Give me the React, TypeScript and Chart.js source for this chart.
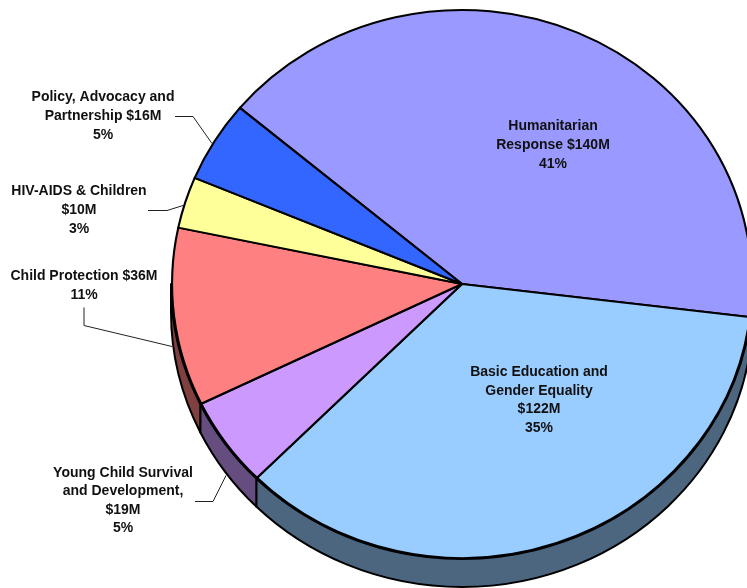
import React, { useEffect, useRef } from "react";
import { Chart, registerables } from "chart.js";

Chart.register(...registerables);

const categories = [
  "Humanitarian Response",
  "Basic Education and Gender Equality",
  "Young Child Survival and Development",
  "Child Protection",
  "HIV-AIDS & Children",
  "Policy, Advocacy and Partnership",
];
const fundingMillions = [140, 122, 18.2, 36, 10.4, 16.4];
const sliceColors = ["#9999FF", "#99CCFF", "#CC99FF", "#FF8080", "#FFFF99", "#3366FF"];
const sideColors = ["#4D4D80", "#4D6680", "#664D80", "#804040", "#808050", "#1A3380"];
const labelLines = [
  ["Humanitarian", "Response $140M", "41%"],
  ["Basic Education and", "Gender Equality", "$122M", "35%"],
  ["Young Child Survival", "and Development,", "$19M", "5%"],
  ["Child Protection $36M", "11%"],
  ["HIV-AIDS & Children", "$10M", "3%"],
  ["Policy, Advocacy and", "Partnership $16M", "5%"],
];

const CX = 462;
const CY = 284;
const RY = 275;
const RX = 291;
const DEPTH = 28;
const labelAnchors = [
  { x: 553, y: 126, step: 19 },
  { x: 539, y: 372, step: 18.7 },
  { x: 123, y: 473, step: 18.5 },
  { x: 84, y: 276, step: 19 },
  { x: 79, y: 191, step: 19 },
  { x: 103, y: 97, step: 19 },
];
const leaders = [
  [],
  [],
  [[195, 501], [213, 501], [226, 475]],
  [[84, 307], [84, 325], [172, 346]],
  [[148, 210], [167, 210], [183, 205]],
  [[175, 116], [193, 116], [212, 143]],
];

const piePlugin = {
  id: "pseudo3d",
  beforeDatasetDraw(chart: any) {
    const ctx = chart.ctx;
    const arcs = chart.getDatasetMeta(0).data;
    ctx.save();
    arcs.forEach((arc: any, i: number) => {
      const norm = (a: number) => {
        let v = a % (2 * Math.PI);
        if (v < 0) v += 2 * Math.PI;
        return v;
      };
      const s = norm(arc.startAngle);
      let e = norm(arc.endAngle);
      if (e < s) e += 2 * Math.PI;
      const a = Math.max(s, 0);
      const b = Math.min(e, Math.PI);
      if (b <= a) return;
      ctx.beginPath();
      ctx.ellipse(CX, CY, RX, RY, 0, a, b, false);
      ctx.ellipse(CX, CY + DEPTH, RX, RY, 0, b, a, true);
      ctx.closePath();
      ctx.fillStyle = sideColors[i];
      ctx.fill();
      ctx.strokeStyle = "#000";
      ctx.lineWidth = 2;
      ctx.lineJoin = "round";
      ctx.stroke();
    });
    ctx.restore();
    ctx.save();
    ctx.translate(CX, CY);
    ctx.scale(RX / RY, 1);
    ctx.translate(-CX, -CY);
  },
  afterDatasetDraw(chart: any) {
    chart.ctx.restore();
  },
  afterDraw(chart: any) {
    const ctx = chart.ctx;
    ctx.save();
    ctx.strokeStyle = "#222";
    ctx.lineWidth = 1;
    leaders.forEach((pts) => {
      if (!pts.length) return;
      ctx.beginPath();
      pts.forEach(([x, y], k) => (k ? ctx.lineTo(x, y + 0.5) : ctx.moveTo(x, y + 0.5)));
      ctx.stroke();
    });
    ctx.fillStyle = "#111";
    ctx.font = 'bold 14px "Liberation Sans"';
    ctx.textAlign = "center";
    ctx.textBaseline = "middle";
    labelLines.forEach((lines, i) => {
      const p = labelAnchors[i];
      lines.forEach((t, k) => ctx.fillText(t, p.x, p.y + k * p.step));
    });
    ctx.restore();
  },
};

export default function App() {
  const ref = useRef<HTMLCanvasElement>(null);
  useEffect(() => {
    const chart = new Chart(ref.current!, {
      type: "pie",
      data: {
        labels: categories,
        datasets: [
          {
            data: fundingMillions,
            backgroundColor: sliceColors,
            borderColor: "#000",
            borderWidth: 2,
            borderJoinStyle: "round",
          },
        ],
      },
      options: {
        responsive: false,
        animation: false,
        rotation: -50,
        layout: {
          padding: { left: CX - RY, right: 747 - CX - RY, top: CY - RY, bottom: 588 - CY - RY },
        },
        plugins: { legend: { display: false }, tooltip: { enabled: false }, title: { display: false } },
      },
      plugins: [piePlugin],
    } as any);
    return () => chart.destroy();
  }, []);
  return (
    <canvas
      ref={ref}
      width={747}
      height={588}
      style={{ position: "fixed", left: 0, top: 0, width: 747, height: 588, background: "#fff" }}
    />
  );
}
